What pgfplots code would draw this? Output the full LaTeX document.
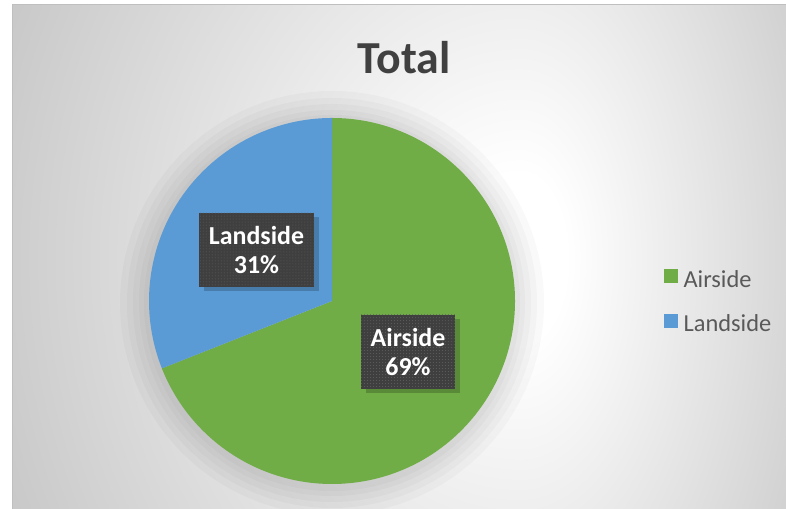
\documentclass[border=0pt]{standalone}
\usepackage{pgfplots}
\pgfplotsset{compat=1.18}
\usepackage{pgfplotstable}
\usepackage{fontspec}
\setmainfont{Carlito}
\usetikzlibrary{patterns}
\definecolor{air}{HTML}{70AD47}
\definecolor{land}{HTML}{5B9BD5}
\definecolor{bggray}{HTML}{C2C2C2}
\definecolor{titlec}{HTML}{404040}
\definecolor{legc}{HTML}{595959}
\definecolor{boxc}{HTML}{3F3F3F}
\pgfdeclareradialshading{bgshade}{\pgfpoint{0bp}{0bp}}{color(0bp)=(white); color(3bp)=(white); color(25bp)=(bggray); color(50bp)=(bggray)}

\pgfplotstableread{
label value
Airside 69
Landside 31
}\piedata

\begin{document}%
\begin{tikzpicture}[x=1bp,y=1bp]
\pgfplotstablegetelem{0}{value}\of\piedata
\pgfmathsetmacro\va{\pgfplotsretval}
\pgfplotstablegetelem{1}{value}\of\piedata
\pgfmathsetmacro\vb{\pgfplotsretval}
\pgfmathsetmacro\fa{\va/(\va+\vb)}
\pgfmathsetmacro\angA{90-360*\fa}
\pgfmathsetmacro\angB{360+\angA}
% background (picture coordinates = pixel coordinates, y up)
\fill[white] (0,0) rectangle (786,509);
\begin{scope}
\clip (12,0) rectangle (520,504);
\shade[overlay,shading=bgshade] (520,250) ellipse [x radius=610, y radius=700];
\end{scope}
\begin{scope}
\clip (520,0) rectangle (786,504);
\shade[overlay,shading=bgshade] (520,250) ellipse [x radius=385, y radius=700];
\end{scope}
\draw[gray!50, line width=1bp] (12,0) -- (12,504) -- (786,504);
\begin{axis}[
  at={(0,0)}, anchor=south west,
  scale only axis, width=786bp, height=509bp,
  xmin=0, xmax=786, ymin=0, ymax=509,
  hide axis, clip=false,
  legend image code/.code={\fill[#1] (0bp,-3bp) rectangle (13bp,10bp); \path (17bp,0bp);},
  legend style={at={(axis cs:664,241)}, anchor=north west, draw=none, fill=none,
    font=\fontsize{24.5}{28}\selectfont, text=legc, row sep=22bp, inner sep=0pt},
  legend cell align=left,
]
% title
\node[font=\bfseries\fontsize{46}{50}\selectfont, text=titlec, anchor=base] at (axis cs:404,435) {Total};
% soft shadow of pie
\fill[black,opacity=0.022] (axis cs:332,206) circle[radius=212bp];
\fill[black,opacity=0.022] (axis cs:332,206) circle[radius=205bp];
\fill[black,opacity=0.022] (axis cs:332,206) circle[radius=199bp];
\fill[black,opacity=0.022] (axis cs:332,206) circle[radius=193bp];
\fill[black,opacity=0.022] (axis cs:332,206) circle[radius=188bp];
% pie
\fill[air] (axis cs:332,208) -- (axis cs:332,391) arc[start angle=90, end angle=\angA, radius=183bp] -- cycle;
\fill[land] (axis cs:332,208) -- (axis cs:332,391) arc[start angle=90, end angle=\angB, radius=183bp] -- cycle;
% data labels
\fill[black,opacity=0.2] (axis cs:204,218) rectangle (axis cs:319,292);
\fill[boxc] (axis cs:199,222) rectangle (axis cs:314,296);
\fill[pattern=dots, pattern color=gray!75!black] (axis cs:199,222) rectangle (axis cs:314,296);
\node[white, font=\bfseries\fontsize{26}{29}\selectfont, align=center] at (axis cs:256.5,259) {Landside\\31\%};
\fill[black,opacity=0.2] (axis cs:366,116) rectangle (axis cs:460,190);
\fill[boxc] (axis cs:361,120) rectangle (axis cs:455,194);
\fill[pattern=dots, pattern color=gray!75!black] (axis cs:361,120) rectangle (axis cs:455,194);
\node[white, font=\bfseries\fontsize{26}{29}\selectfont, align=center] at (axis cs:408,157) {Airside\\69\%};
% legend
\addlegendimage{air}
\addlegendentry{Airside}
\addlegendimage{land}
\addlegendentry{Landside}
\end{axis}
\pgfresetboundingbox
\path[use as bounding box] (0,0) rectangle (786,509);
\end{tikzpicture}%
\end{document}
